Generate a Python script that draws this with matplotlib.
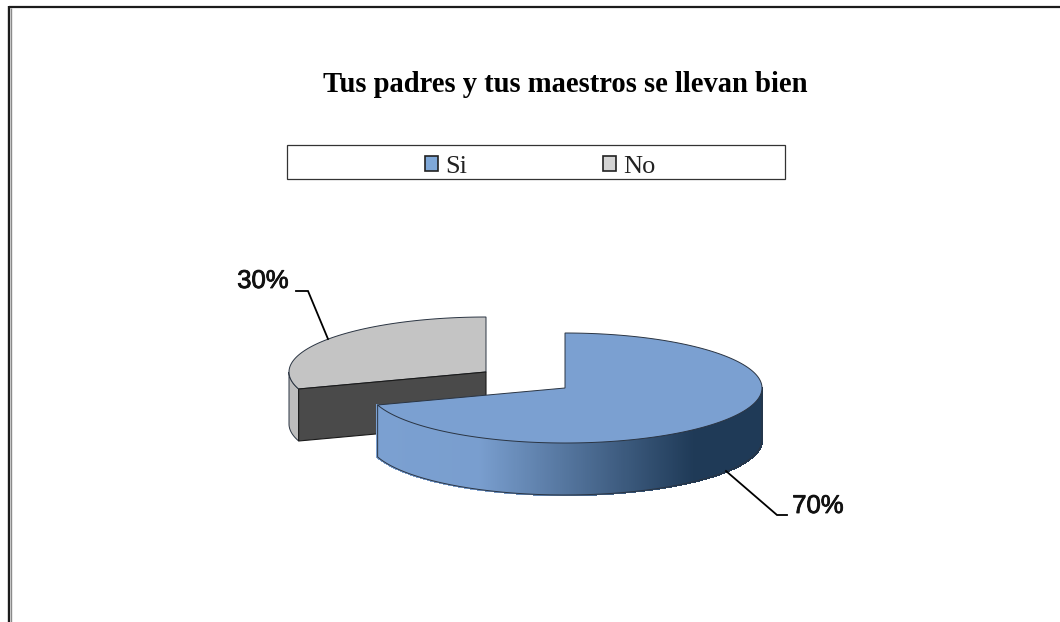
import numpy as np
import matplotlib
matplotlib.use("Agg")
import matplotlib.pyplot as plt
import matplotlib.patheffects as pe
from matplotlib.patches import Polygon, Rectangle
from matplotlib.collections import PolyCollection
from matplotlib.colors import to_rgb

title = "Tus padres y tus maestros se llevan bien"
categories = ["Si", "No"]
values = [70, 30]
legend_colors = ["#7FA8D8", "#D4D4D4"]

fig = plt.figure(figsize=(10.6, 6.22), dpi=100, facecolor="white")
ax = fig.add_axes([0, 0, 1, 1])
ax.set_xlim(0, 1060)
ax.set_ylim(622, 0)
ax.axis("off")

RX, RY, DEPTH = 197, 55, 52
CX_SI, CY_SI = 565, 388
CX_NO, CY_NO = 486, 372
BLUE = "#7BA0D1"
NAVY = "#1F3A57"
GREY = "#C4C4C4"
DARK = "#4A4A4A"
EDGE = "#2A3442"


def ell(cx, cy, deg):
    a = np.radians(deg)
    return cx + RX * np.cos(a), cy - RY * np.sin(a)


def side_color(x):
    t = np.interp(x, [378, 480, 695, 762], [0, 0.02, 1, 1])
    c0, c1 = np.array(to_rgb(BLUE)), np.array(to_rgb(NAVY))
    return tuple(c0 + (c1 - c0) * t)


total = sum(values)
sweep_si = 360 * values[0] / total
end_si = 90 - sweep_si          # clockwise from 12 o'clock
start_no = 90 + 360 * values[1] / total

# --- grey slice (exploded, drawn first) ---
arc = np.linspace(90, start_no, 120)
xa, ya = ell(CX_NO, CY_NO, arc)
ax.add_patch(Polygon(np.c_[np.r_[CX_NO, xa], np.r_[CY_NO, ya]], closed=True,
                     fc=GREY, ec=EDGE, lw=0.7, zorder=2))
# outer wall of the grey slice
arc_s = np.linspace(180, start_no, 30)
xs, ys = ell(CX_NO, CY_NO, arc_s)
ax.add_patch(Polygon(np.c_[np.r_[xs, xs[::-1]], np.r_[ys, ys[::-1] + DEPTH]],
                     closed=True, fc="#BDBDBD", ec=EDGE, lw=0.7, zorder=1))
# cut face of the grey slice
xe, ye = ell(CX_NO, CY_NO, start_no)
ax.add_patch(Polygon([(CX_NO, CY_NO), (xe, ye), (xe, ye + DEPTH), (CX_NO, CY_NO + DEPTH)],
                     closed=True, fc=DARK, ec="#1A1A1A", lw=0.8, zorder=3))

# --- blue slice ---
arc_b = np.linspace(90, end_si, 300)
xb, yb = ell(CX_SI, CY_SI, arc_b)
# gradient wall, front half only
arc_w = np.linspace(end_si, 0, 500)
xw, yw = ell(CX_SI, CY_SI, arc_w)
quads = [[(xw[i], yw[i]), (xw[i + 1], yw[i + 1]),
          (xw[i + 1], yw[i + 1] + DEPTH), (xw[i], yw[i] + DEPTH)]
         for i in range(len(xw) - 1)]
cols = [side_color(0.5 * (xw[i] + xw[i + 1])) for i in range(len(xw) - 1)]
ax.add_collection(PolyCollection(quads, facecolors=cols, edgecolors=cols, linewidths=1.0,
                                 antialiaseds=False, zorder=4))
ax.plot(np.r_[xw[0], xw, xw[-1]], np.r_[yw[0], yw + DEPTH, yw[-1]],
        color=EDGE, lw=0.7, zorder=5)
ax.add_patch(Polygon(np.c_[np.r_[CX_SI, xb], np.r_[CY_SI, yb]], closed=True,
                     fc=BLUE, ec=EDGE, lw=0.7, zorder=6))

# --- value labels with leaders ---
heavy = [pe.withStroke(linewidth=0.6, foreground="#111111")]
ax.plot([296, 308, 328], [291, 291, 339], color="black", lw=1.3, zorder=7, solid_joinstyle="miter")
ax.plot([726, 777, 787], [471, 515, 515], color="black", lw=1.3, zorder=7, solid_joinstyle="miter")
ax.text(263, 281, f"{values[1]}%", family="Liberation Sans", fontsize=18.5,
        ha="center", va="center", color="#111111", zorder=8, path_effects=heavy)
ax.text(818, 506, f"{values[0]}%", family="Liberation Sans", fontsize=18.5,
        ha="center", va="center", color="#111111", zorder=8, path_effects=heavy)

# --- title ---
ax.text(565.5, 85, title, family="Liberation Serif", fontweight="bold", fontsize=20.6,
        ha="center", va="center", color="black")

# --- legend ---
ax.add_patch(Rectangle((287, 145), 498, 34, fc="white", ec="#333333", lw=0.9, zorder=1))
handles = [Rectangle((0, 0), 1, 1, fc=c, ec="#222222", lw=1.2) for c in legend_colors]
leg = ax.legend(handles, categories, ncol=2, loc="center", frameon=False,
                bbox_to_anchor=(540.5, 167), bbox_transform=ax.transData,
                prop={"family": "Liberation Serif", "size": 19},
                handlelength=0.5, handleheight=0.5, handletextpad=0.27,
                columnspacing=5.15, borderpad=0, borderaxespad=0)
for t in leg.get_texts():
    t.set_color("#222222")

# --- page edge lines ---
ax.plot([8.5, 1060], [7, 7], color="#1C1C1C", lw=1.6, zorder=9, solid_capstyle="butt")
ax.plot([9, 9], [6, 622], color="#1C1C1C", lw=1.7, zorder=9, solid_capstyle="butt")
ax.plot([11, 11], [8, 622], color="#8A8A8A", lw=1.0, zorder=9, solid_capstyle="butt")

fig.savefig("out.png", dpi=100, facecolor="white")
